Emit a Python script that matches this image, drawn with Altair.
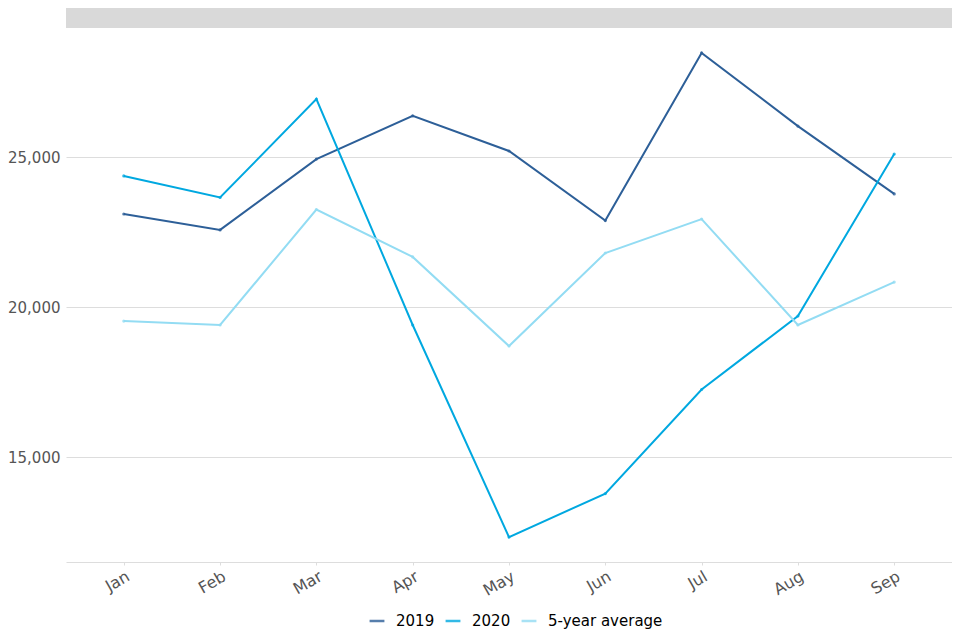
import altair as alt
import pandas as pd

months = ["Jan", "Feb", "Mar", "Apr", "May", "Jun", "Jul", "Aug", "Sep"]
s2019 = [23100, 22570, 24930, 26370, 25200, 22880, 28470, 26030, 23770]
s2020 = [24370, 23650, 26930, 19400, 12330, 13780, 17250, 19700, 25100]
s5yr = [19530, 19400, 23250, 21670, 18700, 21800, 22930, 19400, 20830]
series = ["2019", "2020", "5-year average"]
colors = ["#2d5f98", "#00a8e0", "#93dcf3"]

rows = []
for name, vals in zip(series, [s2019, s2020, s5yr]):
    for m, v in zip(months, vals):
        rows.append({"month": m, "value": v, "series": name})
df = pd.DataFrame(rows)

W, H = 886, 534

band = alt.Chart(pd.DataFrame({"a": [0]})).mark_rect(color="#d9d9d9").encode(
    x=alt.value(0), x2=alt.value(W), y=alt.value(-23), y2=alt.value(0)
)

lines = alt.Chart(df).mark_line(
    strokeWidth=2,
    point=alt.OverlayMarkDef(size=10, filled=True, opacity=0.8),
).encode(
    x=alt.X("month:N", sort=months, title=None,
            scale=alt.Scale(type="point", padding=0.6),
            axis=alt.Axis(labelAngle=-30, labelFontSize=16, labelColor="#555555",
                          labelFont="DejaVu Sans", domainColor="#dddddd",
                          tickColor="#dddddd", tickSize=3, labelPadding=3,
                          grid=False)),
    y=alt.Y("value:Q", title=None,
            scale=alt.Scale(domain=[11500, 29300], nice=False, zero=False),
            axis=alt.Axis(values=[15000, 20000, 25000], format=",.0f",
                          labelFontSize=15, labelColor="#555555",
                          labelFont="DejaVu Sans", domain=False, ticks=False,
                          gridColor="#dddddd", labelPadding=6)),
    color=alt.Color("series:N", sort=series,
                    scale=alt.Scale(domain=series, range=colors),
                    legend=alt.Legend(title=None, orient="none", direction="horizontal",
                                      legendX=302, legendY=584,
                                      symbolType="stroke", symbolStrokeWidth=2.5,
                                      symbolSize=220, labelFontSize=15,
                                      labelFont="DejaVu Sans", labelColor="#000000",
                                      labelOffset=10, columnPadding=5)),
)

chart = alt.layer(band, lines).properties(
    width=W, height=H,
    autosize=alt.AutoSizeParams(type="none"),
    padding={"left": 58, "top": 20, "right": 0, "bottom": 70},
).configure_view(stroke=None)

chart.save("out.html", embed_options={"renderer": "svg", "actions": False})
